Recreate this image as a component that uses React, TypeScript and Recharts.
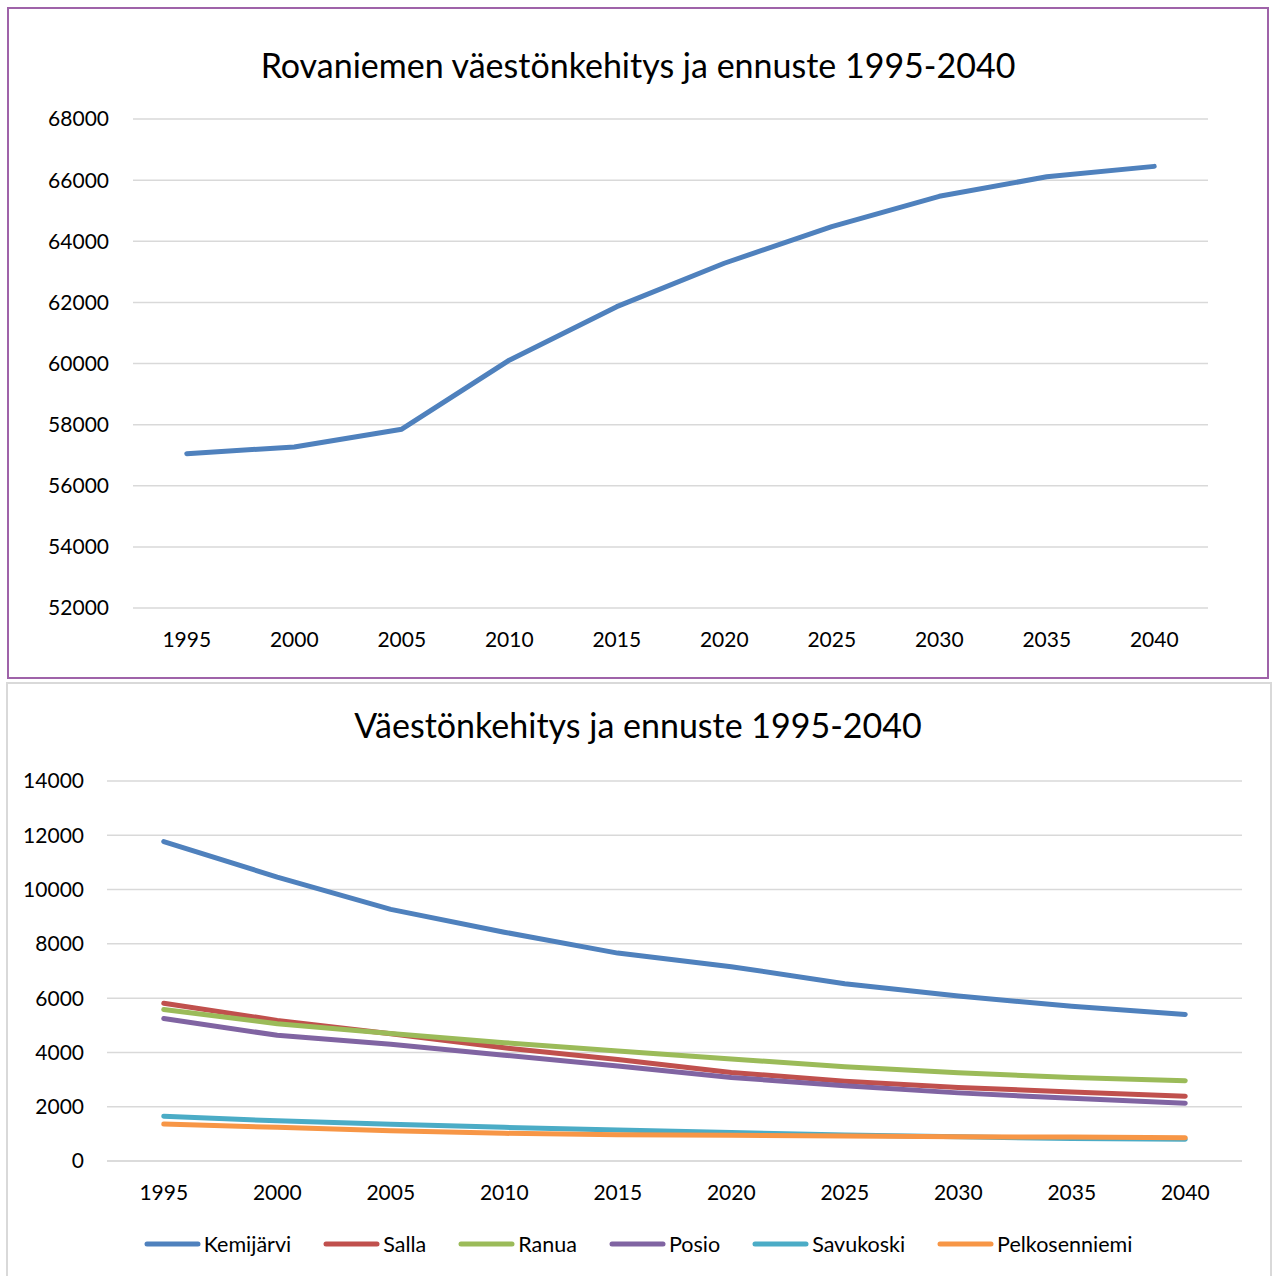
import { CartesianGrid, Legend, Line, LineChart, XAxis, YAxis } from "recharts"

const years = ["1995", "2000", "2005", "2010", "2015", "2020", "2025", "2030", "2035", "2040"]

const rovaniemi = [57050, 57270, 57850, 60110, 61860, 63280, 64480, 65470, 66110, 66450]

const kemijarvi = [11770, 10460, 9270, 8430, 7660, 7160, 6530, 6080, 5700, 5400]
const salla = [5810, 5180, 4690, 4170, 3740, 3260, 2940, 2710, 2540, 2390]
const ranua = [5580, 5060, 4700, 4360, 4050, 3760, 3470, 3250, 3080, 2960]
const posio = [5250, 4630, 4300, 3900, 3500, 3080, 2770, 2510, 2310, 2130]
const savukoski = [1650, 1480, 1350, 1240, 1140, 1050, 960, 890, 830, 800]
const pelkosenniemi = [1360, 1240, 1110, 1020, 970, 945, 920, 895, 880, 860]

const topTicks = [52000, 54000, 56000, 58000, 60000, 62000, 64000, 66000, 68000]
const bottomTicks = [0, 2000, 4000, 6000, 8000, 10000, 12000, 14000]

const series = [
  { key: "kemijarvi", name: "Kemijärvi", color: "#4f81bd", values: kemijarvi },
  { key: "salla", name: "Salla", color: "#c0504d", values: salla },
  { key: "ranua", name: "Ranua", color: "#9bbb59", values: ranua },
  { key: "posio", name: "Posio", color: "#8064a2", values: posio },
  { key: "savukoski", name: "Savukoski", color: "#4bacc6", values: savukoski },
  { key: "pelkosenniemi", name: "Pelkosenniemi", color: "#f79646", values: pelkosenniemi },
]

const topData = years.map((year, i) => ({ year, rovaniemi: rovaniemi[i] }))
const bottomData = years.map((year, i) => {
  const row: Record<string, string | number> = { year }
  series.forEach((s) => {
    row[s.key] = s.values[i]
  })
  return row
})

const font = "Lato, 'Open Sans', sans-serif"
const tickStyle = { fill: "#000", fontSize: 21, fontFamily: font }
const gridColor = "#d9d9d9"

function LegendContent() {
  return (
    <div
      style={{
        display: "flex",
        justifyContent: "center",
        alignItems: "center",
        gap: 32,
        fontFamily: font,
        fontSize: 21.5,
        color: "#000",
      }}
    >
      {series.map((s) => (
        <div key={s.key} style={{ display: "flex", alignItems: "center", gap: 3 }}>
          <svg width={57} height={8}>
            <line x1={3} y1={4} x2={54} y2={4} stroke={s.color} strokeWidth={5} strokeLinecap="round" />
          </svg>
          <span>{s.name}</span>
        </div>
      ))}
    </div>
  )
}

export default function App() {
  return (
    <div style={{ position: "absolute", left: 0, top: 0, width: 1276, height: 1276, background: "#fff" }}>
      {/* top chart */}
      <div
        style={{
          position: "absolute",
          left: 7,
          top: 7,
          width: 1258,
          height: 668,
          border: "2px solid #9f63a9",
        }}
      />
      <div
        style={{
          position: "absolute",
          left: 0,
          top: 44,
          width: 1276,
          textAlign: "center",
          fontFamily: font,
          fontSize: 34,
          color: "#000",
        }}
      >
        Rovaniemen väestönkehitys ja ennuste 1995-2040
      </div>
      <div style={{ position: "absolute", left: 0, top: 0 }}>
        <LineChart width={1276} height={680} data={topData} margin={{ top: 119, right: 68, bottom: 42, left: 0 }}>
          <CartesianGrid vertical={false} stroke={gridColor} strokeWidth={1.5} />
          <XAxis
            dataKey="year"
            height={30}
            padding={{ left: 53.75, right: 53.75 }}
            axisLine={false}
            tickLine={false}
            tickMargin={18}
            tick={tickStyle}
            interval={0}
          />
          <YAxis
            width={133}
            domain={[52000, 68000]}
            ticks={topTicks}
            axisLine={false}
            tickLine={false}
            tickSize={0}
            tickMargin={24}
            tick={tickStyle}
          />
          <Line
            dataKey="rovaniemi"
            stroke="#4f81bd"
            strokeWidth={5}
            strokeLinecap="round"
            strokeLinejoin="round"
            dot={false}
            isAnimationActive={false}
          />
        </LineChart>
      </div>

      {/* bottom chart */}
      <div
        style={{
          position: "absolute",
          left: 6,
          top: 682,
          width: 1262,
          height: 600,
          border: "2px solid #d9d9d9",
        }}
      />
      <div
        style={{
          position: "absolute",
          left: 0,
          top: 704,
          width: 1276,
          textAlign: "center",
          fontFamily: font,
          fontSize: 34,
          color: "#000",
        }}
      >
        Väestönkehitys ja ennuste 1995-2040
      </div>
      <div style={{ position: "absolute", left: 0, top: 683 }}>
        <LineChart width={1276} height={593} data={bottomData} margin={{ top: 98, right: 34, bottom: 85, left: 0 }}>
          <CartesianGrid vertical={false} stroke={gridColor} strokeWidth={1.5} />
          <XAxis
            dataKey="year"
            height={30}
            padding={{ left: 56.75, right: 56.75 }}
            axisLine={{ stroke: gridColor, strokeWidth: 1.5 }}
            tickLine={false}
            tickMargin={18}
            tick={tickStyle}
            interval={0}
          />
          <YAxis
            width={107}
            domain={[0, 14000]}
            ticks={bottomTicks}
            axisLine={false}
            tickLine={false}
            tickSize={0}
            tickMargin={23}
            tick={tickStyle}
          />
          <Legend
            layout="horizontal"
            verticalAlign="middle"
            content={<LegendContent />}
            wrapperStyle={{ left: 0, top: 548, width: 1276 }}
          />
          {series.map((s) => (
            <Line
              key={s.key}
              dataKey={s.key}
              name={s.name}
              stroke={s.color}
              strokeWidth={5}
              strokeLinecap="round"
              strokeLinejoin="round"
              dot={false}
              isAnimationActive={false}
            />
          ))}
        </LineChart>
      </div>
    </div>
  )
}
